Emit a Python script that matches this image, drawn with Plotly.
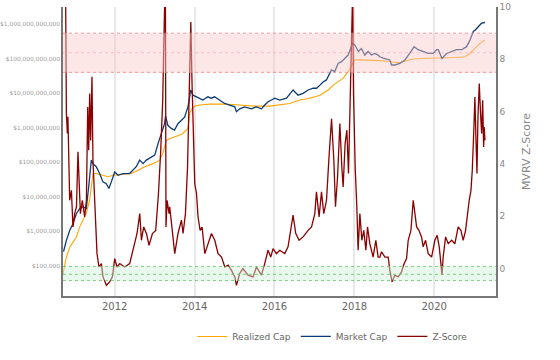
import plotly.graph_objects as go

# ---------------- data ----------------
mc_dates = ["2010-09-20","2010-10-16","2010-11-16","2010-12-15","2011-01-16","2011-02-15","2011-03-16","2011-04-16",
            "2011-05-08","2011-06-01","2011-06-16","2011-07-16","2011-08-16","2011-09-15","2011-10-16","2011-11-09",
            "2011-12-01","2012-01-01","2012-02-01","2012-03-16","2012-05-16","2012-07-16","2012-08-16","2012-09-16",
            "2012-10-16","2012-11-16","2013-01-01","2013-02-01","2013-03-01","2013-04-01","2013-04-10","2013-05-01",
            "2013-06-01","2013-07-01","2013-08-01","2013-09-01","2013-10-01","2013-11-01","2013-11-27","2013-12-17",
            "2014-01-17","2014-02-17","2014-03-17","2014-05-02","2014-06-02","2014-07-02","2014-08-17","2014-10-02",
            "2014-11-17","2015-01-03","2015-01-18","2015-02-18","2015-04-03","2015-06-04","2015-07-19","2015-09-04",
            "2015-10-04","2015-11-04","2015-12-04","2016-01-04","2016-02-19","2016-04-20","2016-06-19","2016-08-04",
            "2016-09-19","2016-11-04","2016-12-20","2017-01-20","2017-02-20","2017-03-20","2017-04-20","2017-05-20",
            "2017-06-05","2017-07-05","2017-08-05","2017-09-05","2017-10-05","2017-11-05","2017-12-17","2018-01-06",
            "2018-02-06","2018-03-06","2018-04-06","2018-05-06","2018-06-06","2018-07-06","2018-08-06","2018-08-21",
            "2018-10-06","2018-11-21","2018-12-06","2019-01-06","2019-02-21","2019-04-07","2019-05-22","2019-07-01",
            "2019-08-07","2019-09-22","2019-11-07","2019-12-22","2020-01-23","2020-02-07","2020-03-12","2020-04-23",
            "2020-06-08","2020-07-23","2020-09-08","2020-10-23","2020-11-23","2020-12-23","2021-01-08","2021-01-23",
            "2021-02-23","2021-03-09","2021-04-09"]
market_cap = [2.6e5,5.5e5,1.07e6,1.66e6,3.3e6,4.6e6,5.1e6,4.6e6,
              1.95e7,1.15e8,9.1e7,7.4e7,4.7e7,2.7e7,2.4e7,1.74e7,
              2.7e7,5.2e7,4.2e7,4.7e7,4.7e7,7.4e7,1.15e8,9.1e7,
              1.15e8,1.3e8,1.6e8,3.5e8,6.8e8,1.3e9,2.2e9,1.17e9,
              9.5e8,8.5e8,1.3e9,1.66e9,2.0e9,4.0e9,1.23e10,8.7e9,
              7.8e9,7.1e9,6.3e9,7.8e9,7.1e9,7.8e9,6.3e9,5.0e9,
              4.5e9,4.0e9,2.9e9,3.5e9,4.0e9,3.5e9,4.0e9,3.5e9,
              4.5e9,5.6e9,6.3e9,7.1e9,6.3e9,7.1e9,1.23e10,8.7e9,
              9.8e9,1.23e10,1.38e10,1.38e10,1.7e10,2.1e10,2.4e10,3.7e10,
              4.7e10,4.2e10,7.2e10,8.1e10,1.0e11,1.26e11,2.8e11,2.45e11,
              1.6e11,1.95e11,1.26e11,1.6e11,1.26e11,1.4e11,1.26e11,1.12e11,
              1.0e11,9.1e10,6.5e10,6.5e10,7.2e10,9.1e10,1.4e11,2.2e11,
              1.8e11,1.6e11,1.4e11,1.4e11,1.8e11,1.8e11,1.0e11,1.4e11,
              1.6e11,1.8e11,1.8e11,2.2e11,3.4e11,6.0e11,6.6e11,7.4e11,
              9.3e11,1.05e12,1.1e12]

rc_dates = ["2010-09-15","2010-10-16","2010-11-16","2011-01-16","2011-02-15","2011-03-16","2011-04-16","2011-05-16",
            "2011-06-01","2011-06-16","2011-07-16","2011-09-15","2011-11-01","2011-12-16","2012-03-01","2012-06-01",
            "2012-08-01","2012-10-01","2012-12-16","2013-02-16","2013-03-16","2013-04-16","2013-05-16","2013-07-01",
            "2013-09-01","2013-10-01","2013-11-01","2013-11-17","2013-12-06","2014-01-03","2014-02-17","2014-05-18",
            "2014-10-02","2015-02-18","2015-07-04","2015-11-19","2016-02-19","2016-05-20","2016-08-20","2016-11-20",
            "2017-02-20","2017-05-06","2017-06-21","2017-08-05","2017-09-21","2017-11-05","2017-12-06","2018-01-06",
            "2018-02-21","2018-05-22","2018-08-21","2018-10-06","2018-12-06","2019-02-21","2019-04-07","2019-06-08",
            "2019-09-08","2020-01-08","2020-04-08","2020-07-08","2020-10-08","2020-11-23","2021-01-08","2021-02-23",
            "2021-04-09"]
realized_cap = [5.8e4,1.8e5,3.5e5,6.9e5,1.35e6,2.1e6,3.3e6,7.9e6,
                1.95e7,4.7e7,4.7e7,4.2e7,3.8e7,4.2e7,4.5e7,4.7e7,
                5.9e7,7.4e7,9.1e7,1.15e8,1.8e8,4.2e8,4.8e8,5.5e8,
                6.3e8,7.6e8,9.5e8,2.6e9,3.5e9,4.2e9,4.5e9,4.8e9,
                4.8e9,4.5e9,4.2e9,4.2e9,4.5e9,5.0e9,6.3e9,7.1e9,
                8.7e9,1.23e10,1.7e10,2.1e10,2.7e10,4.2e10,6.5e10,9.1e10,
                9.1e10,9.1e10,8.7e10,8.5e10,7.9e10,7.6e10,8.5e10,9.5e10,
                1.0e11,1.02e11,1.02e11,1.07e11,1.12e11,1.4e11,2.0e11,2.75e11,
                3.4e11]

z_dates = ["2010-09-17","2010-10-09","2010-10-16","2010-10-25","2010-10-30","2010-11-06","2010-11-15","2010-12-01",
           "2010-12-15","2010-12-31","2011-01-16","2011-01-30","2011-02-08","2011-02-21","2011-03-11","2011-04-01",
           "2011-04-17","2011-04-29","2011-05-08","2011-05-17","2011-05-26","2011-06-07","2011-06-16","2011-06-29",
           "2011-07-11","2011-07-23","2011-08-10","2011-09-01","2011-09-16","2011-10-17","2011-11-16","2011-12-11",
           "2012-01-01","2012-01-22","2012-02-16","2012-04-01","2012-05-17","2012-06-17","2012-07-23","2012-08-17",
           "2012-09-01","2012-09-22","2012-10-17","2012-11-10","2012-12-11","2013-01-10","2013-02-04","2013-02-25",
           "2013-03-15","2013-04-08","2013-04-14","2013-04-24","2013-05-12","2013-05-18","2013-06-18","2013-07-03",
           "2013-08-02","2013-09-02","2013-09-17","2013-10-09","2013-10-28","2013-11-08","2013-11-20","2013-11-27",
           "2013-12-08","2013-12-21","2014-01-02","2014-01-18","2014-02-01","2014-02-20","2014-03-10","2014-04-04",
           "2014-05-04","2014-06-04","2014-07-04","2014-08-03","2014-09-04","2014-10-04","2014-11-03","2014-12-04",
           "2015-01-03","2015-01-18","2015-02-17","2015-03-19","2015-05-04","2015-06-19","2015-07-20","2015-09-04",
           "2015-10-04","2015-11-03","2015-11-28","2015-12-19","2016-01-19","2016-02-18","2016-04-04","2016-05-04",
           "2016-06-19","2016-07-14","2016-08-13","2016-09-19","2016-11-04","2016-12-05","2017-01-04","2017-01-19",
           "2017-02-12","2017-03-06","2017-03-27","2017-04-21","2017-05-12","2017-06-06","2017-06-27","2017-07-12",
           "2017-07-31","2017-08-21","2017-09-08","2017-09-20","2017-10-08","2017-10-24","2017-11-08","2017-11-20",
           "2017-12-02","2017-12-16","2017-12-24","2018-01-08","2018-01-23","2018-02-04","2018-02-20","2018-03-10",
           "2018-03-28","2018-04-16","2018-05-01","2018-05-22","2018-06-21","2018-07-16","2018-08-06","2018-08-22",
           "2018-09-06","2018-10-07","2018-11-06","2018-11-21","2018-12-12","2019-01-06","2019-02-05","2019-03-08",
           "2019-04-01","2019-04-23","2019-05-08","2019-06-02","2019-06-23","2019-07-08","2019-07-24","2019-08-14",
           "2019-09-07","2019-09-22","2019-10-14","2019-11-07","2019-12-08","2020-01-07","2020-01-28","2020-02-16",
           "2020-03-12","2020-03-23","2020-04-14","2020-05-08","2020-06-08","2020-07-08","2020-08-07","2020-09-01",
           "2020-09-22","2020-10-14","2020-11-02","2020-11-16","2020-12-02","2020-12-14","2020-12-27","2021-01-07",
           "2021-01-17","2021-01-26","2021-02-04","2021-02-16","2021-03-01","2021-03-10","2021-03-19","2021-03-28",
           "2021-04-02","2021-04-09"]
z_score = [14.0,10.5,5.92,5.16,5.8,3.37,2.61,2.99,
           1.59,2.1,2.36,4.46,3.12,2.1,2.61,1.97,
           2.61,6.18,4.52,6.69,4.9,7.33,4.14,2.61,
           1.34,0.57,0.06,0.19,-0.32,-0.64,-0.51,-0.32,
           0.38,0.06,0.19,0.06,0.19,0.7,1.34,2.1,
           1.08,1.59,1.34,0.89,1.34,1.46,2.87,4.52,
           6.43,11.5,1.59,2.61,2.1,2.36,1.08,0.57,
           1.34,1.85,1.34,2.1,3.88,6.43,8.98,9.43,
           7.07,4.9,3.25,2.87,1.97,1.46,1.59,0.57,
           0.95,1.34,1.08,0.57,0.44,0.06,0.13,-0.07,
           -0.32,-0.64,-0.19,0.0,-0.25,-0.32,0.06,-0.25,
           0.19,0.7,0.44,0.76,0.57,0.7,0.57,0.83,
           2.04,1.34,1.08,1.21,1.46,1.59,2.1,2.93,
           1.97,2.93,2.1,2.61,4.14,5.73,4.14,2.36,
           3.5,5.54,3.88,3.12,4.78,5.29,3.63,5.54,
           8.34,10.6,6.69,3.88,2.36,0.7,2.1,1.08,
           1.46,0.7,1.59,0.95,0.44,1.08,0.44,0.44,
           0.64,0.44,0.44,-0.07,-0.51,-0.25,-0.32,-0.13,
           0.19,0.38,1.08,1.46,2.61,2.1,1.59,1.46,
           1.21,0.83,1.08,0.57,0.44,1.08,1.27,0.83,
           -0.25,0.44,1.21,0.95,1.08,0.95,1.59,1.46,
           1.08,1.46,2.23,2.61,2.99,3.76,5.16,6.56,
           4.9,3.63,5.8,7.07,5.8,5.16,6.43,4.65,
           5.41,4.9]

cap_tick_vals = [1e5, 1e6, 1e7, 1e8, 1e9, 1e10, 1e11, 1e12]
cap_tick_text = ["$100,000", "$1,000,000", "$10,000,000", "$100,000,000", "$1,000,000,000",
                 "$10,000,000,000", "$100,000,000,000", "$1,000,000,000,000"]
red_band = [7.5, 9.0]
green_band = [-0.46, 0.08]

# ---------------- figure ----------------
fig = go.Figure()
fig.add_trace(go.Scatter(x=rc_dates, y=realized_cap, name="Realized Cap", mode="lines",
                         line=dict(color="#FFA500", width=1.1), yaxis="y"))
fig.add_trace(go.Scatter(x=mc_dates, y=market_cap, name="Market Cap", mode="lines",
                         line=dict(color="#0b3b74", width=1.3), yaxis="y"))
fig.add_trace(go.Scatter(x=z_dates, y=z_score, name="Z-Score", mode="lines",
                         line=dict(color="#8b0000", width=1.3), yaxis="y2"))

shapes = []
# red (overvalued) band
shapes.append(dict(type="rect", xref="paper", x0=0, x1=1, yref="y2", y0=red_band[0], y1=red_band[1],
                   fillcolor="rgb(250,200,200)", opacity=0.45, line=dict(width=0), layer="above"))
for yv, col in [(red_band[0], "rgba(235,120,120,0.7)"), (red_band[1], "rgba(235,120,120,0.7)"),
                ((red_band[0] + red_band[1]) / 2, "rgba(235,150,150,0.45)")]:
    shapes.append(dict(type="line", xref="paper", x0=0, x1=1, yref="y2", y0=yv, y1=yv,
                       line=dict(color=col, width=1, dash="3px,3px"), layer="above"))
# green (undervalued) band
shapes.append(dict(type="rect", xref="paper", x0=0, x1=1, yref="y2", y0=green_band[0], y1=green_band[1],
                   fillcolor="rgb(205,240,215)", opacity=0.45, line=dict(width=0), layer="above"))
for yv in [green_band[0], green_band[1], -0.22]:
    shapes.append(dict(type="line", xref="paper", x0=0, x1=1, yref="y2", y0=yv, y1=yv,
                       line=dict(color="rgba(90,190,100,0.75)", width=1, dash="3px,3px"), layer="above"))

fig.update_layout(
    width=560, height=360,
    margin=dict(l=63, r=64, t=7, b=64),
    paper_bgcolor="white", plot_bgcolor="white",
    font=dict(family="DejaVu Sans", color="#666"),
    showlegend=True,
    legend=dict(orientation="h", x=0.623, xanchor="center", y=-0.14, yanchor="middle",
                font=dict(size=9, color="#666"), bgcolor="rgba(0,0,0,0)"),
    shapes=shapes,
    xaxis=dict(type="date", range=["2010-09-15", "2021-07-19"],
               showgrid=True, gridcolor="#e8e8e8", gridwidth=2,
               tick0="2012-01-01", dtick="M24", tickformat="%Y",
               showline=True, linecolor="#777", linewidth=1.5, zeroline=False,
               ticks="", tickfont=dict(size=10, color="#666")),
    yaxis=dict(type="log", range=[4.13, 12.49], tickvals=cap_tick_vals, ticktext=cap_tick_text,
               showgrid=False, showline=True, linecolor="#777", linewidth=1.5, zeroline=False,
               ticks="", tickfont=dict(size=5.9, color="#999"), automargin=False),
    yaxis2=dict(overlaying="y", side="right", range=[-1.05, 10], tick0=0, dtick=2,
                showgrid=False, showline=True, linecolor="#777", linewidth=1.5, zeroline=False,
                ticks="", tickfont=dict(size=9, color="#888"), automargin=False,
                title=dict(text="MVRV Z-Score", font=dict(size=11, color="#888"), standoff=12)),
)

fig.write_html("out.html", config={"displayModeBar": False},
               post_script="document.body.style.margin='0px';")
